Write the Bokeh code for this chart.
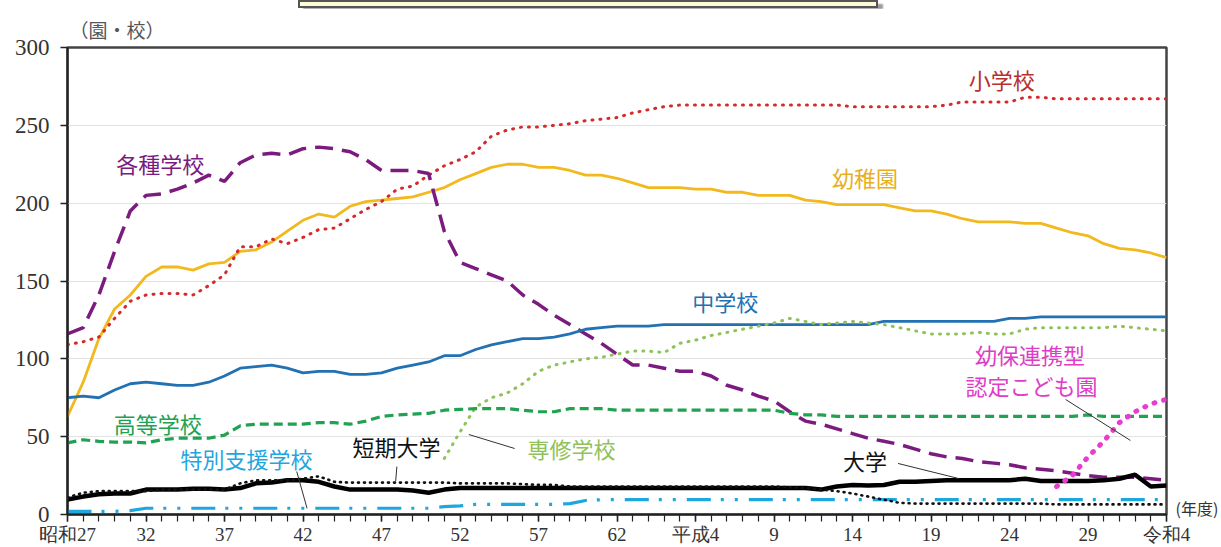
from bokeh.plotting import figure
from bokeh.models import Range1d, FixedTicker, Label, Div, LinearAxis
from bokeh.layouts import column
from bokeh.embed import file_html
from bokeh.resources import INLINE

years = list(range(1952, 2023))

kindergarten = [63, 85, 113, 132, 141, 153, 159, 159, 157, 161, 162, 169, 170, 175, 182, 189, 193, 191, 198, 201,
                202, 203, 204, 207, 210, 215, 219, 223, 225, 225, 223, 223, 221, 218, 218, 216, 213, 210, 210, 210,
                209, 209, 207, 207, 205, 205, 205, 202, 201, 199, 199, 199, 199, 197, 195, 195, 193, 190, 188, 188,
                188, 187, 187, 184, 181, 179, 174, 171, 170, 168, 165]
elementary = [109, 111, 114, 126, 137, 141, 142, 142, 141, 147, 154, 172, 172, 177, 174, 178, 183, 184, 190, 196,
              201, 209, 211, 218, 224, 228, 233, 243, 247, 249, 249, 250, 251, 253, 254, 255, 258, 260, 262, 263,
              263, 263, 263, 263, 263, 263, 263, 263, 263, 263, 262, 262, 262, 262, 262, 262, 263, 265, 265, 265,
              265, 268, 268, 267, 267, 267, 267, 267, 267, 267, 267]
misc_school = [116, 120, 141, 169, 195, 205, 206, 209, 213, 218, 214, 226, 231, 232, 231, 235, 236, 235, 233, 228,
               221, 221, 221, 219, 182, 162, 158, 154, 150, 141, 135, 128, 122, 116, 110, 103, 96, 96, 94, 92,
               92, 89, 83, 80, 76, 73, 66, 60, 58, 55, 52, 49, 47, 45, 42, 39, 37, 36, 34, 33,
               32, 30, 29, 28, 26.5, 25, 24, 24, 24, 23, 22]
junior_high = [75, 76, 75, 80, 84, 85, 84, 83, 83, 85, 89, 94, 95, 96, 94, 91, 92, 92, 90, 90,
               91, 94, 96, 98, 102, 102, 106, 109, 111, 113, 113, 114, 116, 119, 120, 121, 121, 121, 122, 122,
               122, 122, 122, 122, 122, 122, 122, 122, 122, 122, 122, 122, 124, 124, 124, 124, 124, 124, 124, 124,
               126, 126, 127, 127, 127, 127, 127, 127, 127, 127, 127]
senshu_years = list(range(1976, 2023))
senshu = [36, 53, 69, 75, 78, 84, 92, 96, 98, 100, 101, 103, 105, 105, 104, 110, 112, 115, 117, 119,
          121, 123, 126, 124, 122, 123, 124, 123, 122, 120, 118, 116, 116, 116, 117, 116, 116, 119, 120, 120,
          120, 120, 120, 121, 120, 119, 118]
high_school = [46, 48, 47, 46.5, 46.5, 46, 48, 49, 49, 49, 51, 57, 58, 58, 58, 58, 59, 59, 58, 60,
               63, 64, 64.5, 65, 67, 67.5, 68, 68, 68, 67, 66, 66, 68, 68, 68, 67, 67, 67, 67, 67,
               67, 67, 67, 67, 67, 67, 65, 64, 64, 63, 63, 63, 63, 63, 63, 63, 63, 63, 63, 63,
               63, 63, 63, 63, 63, 64, 63, 63, 63, 63, 63]
junior_college = [11, 14, 15, 15, 15, 15, 16, 16, 16, 16, 16, 20, 22, 22, 22, 23, 24.5, 21, 20.5, 20.5,
                  20.5, 20.5, 20.5, 20.5, 20.5, 20, 20, 20, 20, 19.5, 19, 19, 18, 18, 18, 18, 18, 18, 18, 18,
                  18, 18, 18, 18, 18, 18, 17.5, 17, 16, 15, 13.5, 11.5, 9.5, 7.5, 7, 7, 7, 7, 7, 7,
                  7, 7, 7, 6.5, 6.5, 6.5, 6.5, 6.5, 6.5, 6.5, 6.5]
university = [9.6, 11.5, 13, 13.5, 13.5, 16, 16, 16, 16.5, 16.5, 16, 17, 20, 20.5, 22, 22, 21, 18, 16, 16,
              16, 16, 15.4, 14, 16, 17, 17, 17, 17, 17, 17, 17, 17, 17, 17, 17, 17, 17, 17, 17,
              17, 17, 17, 17, 17, 17, 17, 17, 16, 18, 19, 18.6, 19, 21, 21, 21.5, 22, 22, 22, 22,
              22, 23, 21.5, 21.5, 21.5, 21.5, 22, 23, 25.5, 18, 18.6]
special_support = [2, 2, 2, 2, 2.5, 4, 4, 4, 4, 4, 4, 4, 4, 4, 4, 4, 4, 4, 4, 4,
                   4, 4, 4, 4, 5, 5.5, 6.5, 6.5, 6.5, 6.5, 6.5, 6.5, 7, 9, 9.5, 9.5, 9.5, 9.5, 9.5, 9.5,
                   9.5, 9.5, 9.5, 9.5, 9.5, 9.5, 9.5, 9.5, 9.5, 9.5, 9.5, 9.5, 9.5, 9.5, 9.5, 9.5, 9.5, 9.5, 9.5, 9.5,
                   9.5, 9.5, 9.5, 9.5, 9.5, 9.5, 9.5, 9.5, 9.5, 9.5, 9.5]
kodomoen_years = list(range(2015, 2023))
kodomoen = [18, 25, 37, 47, 59, 66, 71, 74]

major_ticks = [1952, 1957, 1962, 1967, 1972, 1977, 1982, 1987, 1992, 1997, 2002, 2007, 2012, 2017, 2022]
tick_labels = ["昭和27", "32", "37", "42", "47", "52", "57", "62", "平成4", "9", "14", "19", "24", "29", "令和4"]
y_ticks = [0, 50, 100, 150, 200, 250, 300]

label_texts = ["小学校", "各種学校", "幼稚園", "中学校", "幼保連携型", "認定こども園", "高等学校",
               "短期大学", "専修学校", "特別支援学校", "大学"]
label_x = [2011.5, 1957.9, 2002.8, 1993.9, 2013.3, 2013.4, 1957.75, 1972.95, 1984.1, 1963.4, 2002.8]
label_y = [279.5, 225.6, 216.6, 137, 103, 83, 58.5, 44.3, 42.4, 36, 35]
label_colors = ["#b5302e", "#7b1b7f", "#e8b020", "#2271b3", "#e03cc8", "#e03cc8", "#21a251",
                "#111111", "#8fc25a", "#1ea6df", "#111111"]

leader_x0 = [1972.98, 1977.56, 1966.6, 2004.9, 2015.57]
leader_y0 = [30.8, 51.4, 27.6, 32.8, 73.9]
leader_x1 = [1972.9, 1980.48, 1967.26, 2008.77, 2019.7]
leader_y1 = [21.2, 42.4, 3.9, 23.1, 47.6]

JP = "Noto Sans CJK JP"

p = figure(width=1221, height=540, output_backend="svg", toolbar_location=None,
           x_range=Range1d(1952, 2022), y_range=Range1d(0, 300),
           min_border_left=67, min_border_right=53, min_border_top=39, min_border_bottom=34)
p.background_fill_color = "white"
p.border_fill_color = "white"
p.outline_line_color = "#444444"
p.outline_line_width = 2.5

p.title.text = "（園・校）"
p.title.align = "left"
p.title.offset = 2
p.title.standoff = 9
p.title.text_font = JP
p.title.text_font_size = "19px"
p.title.text_font_style = "normal"
p.title.text_color = "#555555"

p.xgrid.grid_line_color = None
p.ygrid.grid_line_color = "#e2e2e2"
p.ygrid.grid_line_width = 1

p.xaxis.ticker = FixedTicker(ticks=major_ticks, minor_ticks=years)
p.xaxis.major_label_overrides = {t: l for t, l in zip(major_ticks, tick_labels)}
p.yaxis.ticker = FixedTicker(ticks=y_ticks)

for ax in (p.xaxis, p.yaxis):
    ax.axis_line_color = "#222222"
    ax.axis_line_width = 2
    ax.major_tick_line_color = "#222222"
    ax.major_tick_line_width = 1.5
    ax.major_tick_in = 0
    ax.major_label_text_color = "#333333"
    ax.major_label_text_font = "Liberation Serif"

p.xaxis.major_tick_out = 7
p.xaxis.minor_tick_out = 7
p.xaxis.minor_tick_in = 0
p.xaxis.minor_tick_line_color = "#222222"
p.xaxis.minor_tick_line_width = 1.2
p.xaxis.major_label_standoff = 2
p.xaxis.major_label_text_font_size = "19px"

p.yaxis.major_tick_out = 7
p.yaxis.minor_tick_line_color = None
p.yaxis.major_label_standoff = 11
p.yaxis.major_label_text_font_size = "23px"

# unit note on the right, at the x axis level
year_axis = LinearAxis(ticker=FixedTicker(ticks=[4]), major_label_overrides={4: "(年度)"},
                       axis_line_color=None, major_tick_line_color=None, minor_tick_line_color=None,
                       major_label_standoff=3, major_label_text_font=JP,
                       major_label_text_font_size="16px", major_label_text_color="#333333")
p.add_layout(year_axis, "right")

# series
p.line(years, kindergarten, line_color="#f2b91e", line_width=2.8)
p.line(years, elementary, line_color="#d42a2a", line_width=3, line_dash="1 7", line_cap="round")
p.line(years, misc_school, line_color="#7b1b7f", line_width=3.5, line_dash="18 9")
p.line(years, junior_high, line_color="#2271b3", line_width=2.8)
p.line(senshu_years, senshu, line_color="#8fc25a", line_width=3, line_dash="1 7", line_cap="round")
p.line(years, high_school, line_color="#21a251", line_width=3.2, line_dash="9 5")
p.line(years, special_support, line_color="#1ea6df", line_width=3.2, line_dash="24 10 3 11 3 11")
p.line(years, university, line_color="#000000", line_width=4.5)
p.line(years, junior_college, line_color="#111111", line_width=2.6, line_dash="1 5", line_cap="round")
p.line(kodomoen_years, kodomoen, line_color="#e83ccf", line_width=5, line_dash="1 9", line_cap="round")

# leader lines
p.segment(leader_x0, leader_y0, leader_x1, leader_y1, line_color="#333333", line_width=1)

for t, x, y, c in zip(label_texts, label_x, label_y, label_colors):
    p.add_layout(Label(x=x, y=y, text=t, text_color=c, text_font=JP, text_font_size="22px",
                       text_align="center", text_baseline="middle"))

box = Div(text="", width=580, height=8, margin=(0, 0, 0, 298),
          styles={"background-color": "#fffbd6", "border": "2px solid #555555",
                  "box-shadow": "5px 4px 2px #999999", "box-sizing": "border-box"})

layout = column(box, p, spacing=0)
open("out.html", "w").write(file_html(layout, INLINE))
